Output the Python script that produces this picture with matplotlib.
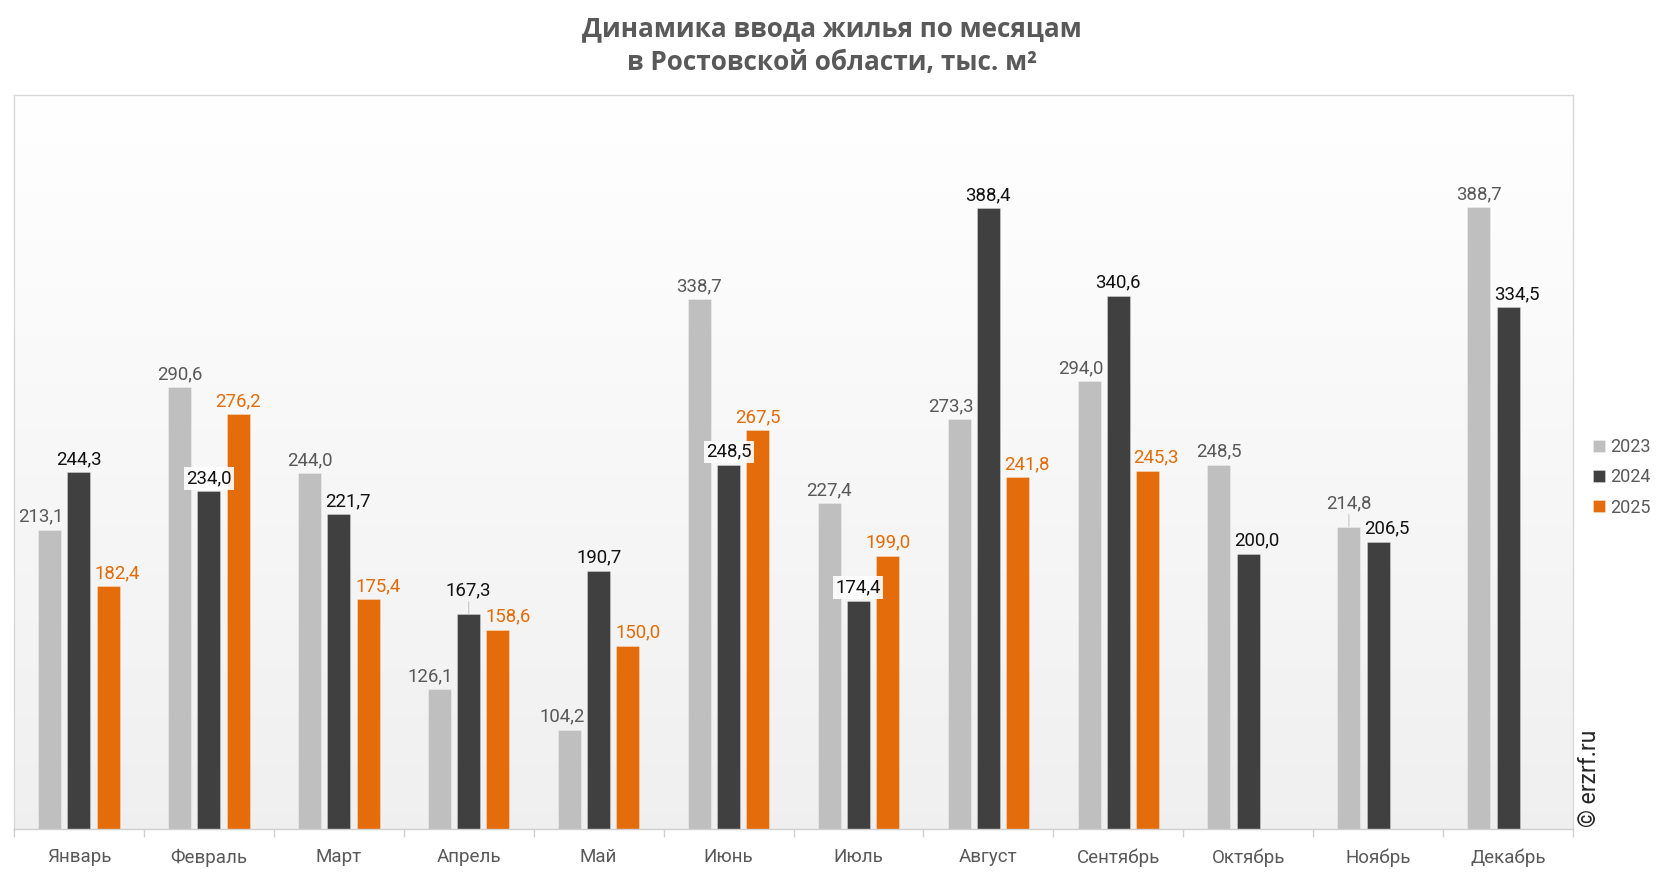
import numpy as np
import matplotlib
matplotlib.use("Agg")
import matplotlib.pyplot as plt

months = ["Январь", "Февраль", "Март", "Апрель", "Май", "Июнь",
          "Июль", "Август", "Сентябрь", "Октябрь", "Ноябрь", "Декабрь"]
years = ["2023", "2024", "2025"]
v2023 = [213.1, 290.6, 244.0, 126.1, 104.2, 338.7, 227.4, 273.3, 294.0, 248.5, 214.8, 388.7]
v2024 = [244.3, 234.0, 221.7, 167.3, 190.7, 248.5, 174.4, 388.4, 340.6, 200.0, 206.5, 334.5]
v2025 = [182.4, 276.2, 175.4, 158.6, 150.0, 267.5, 199.0, 241.8, 245.3, np.nan, np.nan, np.nan]
title_lines = ["Динамика ввода жилья по месяцам", "в Ростовской области, тыс. м²"]
watermark = "© erzrf.ru"

# label placement tweaks (pixels): (series, month) -> dx / raise
label_dx = {(0, 0): -9, (2, 0): 9, (1, 2): 9, (2, 2): 10, (0, 3): -9, (2, 3): 10,
            (0, 4): -7, (2, 4): 10, (0, 7): -8, (2, 7): 9, (0, 8): -8, (2, 8): 8,
            (1, 9): 9, (1, 10): 9, (1, 11): 9}
label_raise = {(1, 3): 10, (0, 10): 10}
label_boxed = {(1, 1), (1, 5), (1, 6)}

plt.rcParams['font.family'] = ['Roboto', 'DejaVu Sans']

W, H = 1666, 872
fig = plt.figure(figsize=(W / 100, H / 100), dpi=100)
fig.patch.set_facecolor("white")
ax = fig.add_axes([14 / W, (H - 829) / H, (1573 - 14) / W, (829 - 95) / H])

# gradient background
grad = np.linspace(1.0, 0.94, 256).reshape(-1, 1)
ax.imshow(np.dstack([grad, grad, grad]), extent=[0, 1, 0, 1], transform=ax.transAxes,
          aspect='auto', zorder=0, interpolation='bicubic')

colors = ["#bfbfbf", "#404040", "#e46c0a"]
lab_colors = ["#595959", "#111111", "#e36c09"]
series = [v2023, v2024, v2025]
pitch = 0.225
bw = 0.177
x = np.arange(len(months))
for s, vals in enumerate(series):
    vals = np.array(vals, dtype=float)
    xs = x + (s - 1) * pitch
    ax.bar(xs, vals, width=bw, color=colors[s], edgecolor=(1, 1, 1, 0.3),
           linewidth=0.7, zorder=2, label=years[s])
    for i, v in enumerate(vals):
        if np.isnan(v):
            continue
        dx = label_dx.get((s, i), 0)
        dy = 8 + label_raise.get((s, i), 0)
        kw = {}
        if (s, i) in label_boxed:
            kw['bbox'] = dict(boxstyle='square,pad=0.12', fc='white', ec='none', alpha=0.9)
        ax.annotate(f"{v:.1f}".replace('.', ','), (xs[i], v), xytext=(dx, dy),
                    textcoords='offset pixels', ha='center', va='baseline',
                    fontsize=13.4, color=lab_colors[s], zorder=4, **kw)
        if (s, i) in label_raise:
            ax.annotate("", (xs[i], v), xytext=(0, label_raise[(s, i)] + 2),
                        textcoords='offset pixels',
                        arrowprops=dict(arrowstyle='-', color='#c8c8c8', lw=0.8,
                                        shrinkA=0, shrinkB=0), zorder=3)

ax.set_xlim(-0.5, len(months) - 0.5)
ax.set_ylim(50, 450)
ax.set_yticks([])
ax.set_xticks(np.arange(len(months) + 1) - 0.5, minor=True)
ax.set_xticks(x)
ax.set_xticklabels(months, fontsize=13.5, color="#595959")
ax.tick_params(axis='x', which='major', length=0, pad=14)
ax.tick_params(axis='x', which='minor', length=6, width=1, color="#d0d0d0")
for sp in ax.spines.values():
    sp.set_color("#d9d9d9")
    sp.set_linewidth(1)
ax.spines['bottom'].set_color("#d0d0d0")

for k, (line, base) in enumerate(zip(title_lines, [36, 70])):
    fig.text(832 / W, 1 - base / H, line, ha='center', va='baseline', fontsize=18.8,
             fontweight='bold', color="#595959", family=['Open Sans', 'DejaVu Sans'])

handles, labels = ax.get_legend_handles_labels()
fig.legend(handles, labels, loc='upper left', bbox_to_anchor=(1593 / W, 1 - 438 / H),
           frameon=False, fontsize=13, handlelength=0.65, handleheight=0.65,
           handletextpad=0.3, labelspacing=0.68, borderpad=0, borderaxespad=0,
           labelcolor="#595959")

fig.text(1589.5 / W, 1 - 827 / H, watermark, rotation=90, ha='center', va='bottom',
         fontsize=16.5, color="#262626")

fig.savefig("out.png", dpi=100)
